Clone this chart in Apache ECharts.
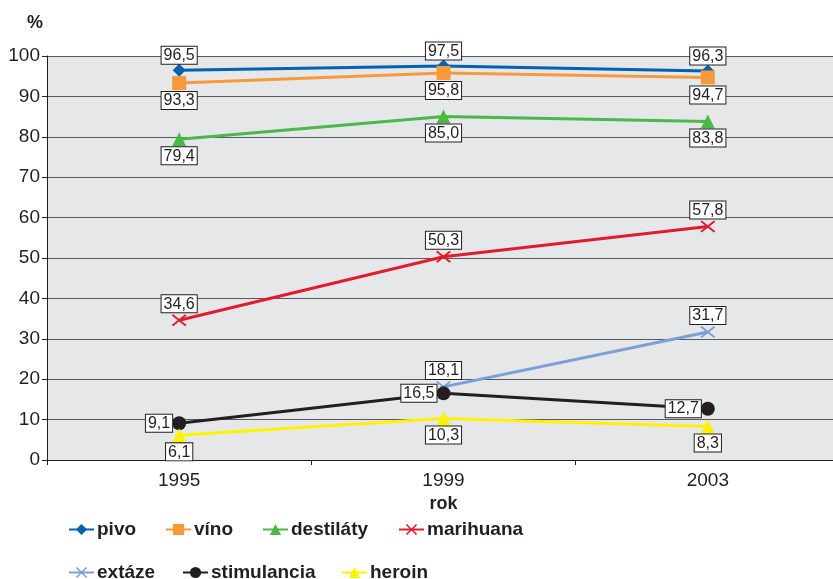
<!DOCTYPE html>
<html>
<head>
<meta charset="utf-8">
<script src="https://cdn.jsdelivr.net/npm/echarts@6/dist/echarts.min.js"></script>
<style>
  html, body { margin: 0; padding: 0; background: #fff; overflow: hidden; }
  /* the plot runs past the right edge of the window */
  #chart { width: 840px; height: 579px; }
</style>
</head>
<body>
<div id="chart"></div>
<script>
// Survey years and prevalence (%) per substance
const years = ['1995', '1999', '2003'];
const pivo = [96.5, 97.5, 96.3];
const vino = [93.3, 95.8, 94.7];
const destilaty = [79.4, 85.0, 83.8];
const marihuana = [34.6, 50.3, 57.8];
const extaze = [null, 18.1, 31.7];
const stimulancia = [9.1, 16.5, 12.7];
const heroin = [6.1, 10.3, 8.3];
const yTicks = [0, 10, 20, 30, 40, 50, 60, 70, 80, 90, 100];

const ink = '#231f20';
const font = 'Liberation Sans, Arial, sans-serif';
const crossPath = 'path://M0,1 L1,0 L5,4 L9,0 L10,1 L6,5 L10,9 L9,10 L5,6 L1,10 L0,9 L4,5 Z';

function fmt(p) {
  const v = Array.isArray(p.value) ? p.value[1] : p.value;
  return v == null ? '' : v.toFixed(1).replace('.', ',');
}

function makeSeries(name, data, color, symbol, symbolSize, labelPos, labelDist) {
  return {
    name: name,
    type: 'line',
    data: data,
    color: color,
    symbol: symbol,
    symbolSize: symbolSize,
    showAllSymbol: true,
    connectNulls: false,
    lineStyle: { width: 3, color: color },
    itemStyle: { color: color },
    emphasis: { disabled: true },
    label: {
      show: true,
      position: labelPos,
      distance: labelDist,
      formatter: fmt,
      fontFamily: font,
      fontSize: 16,
      color: ink,
      backgroundColor: '#ffffff',
      borderColor: ink,
      borderWidth: 1,
      padding: [1, 2, 0, 2],
      lineHeight: 16
    },
    z: 2
  };
}

const series = [
  makeSeries('pivo', pivo, '#0062b1', 'diamond', 13, 'top', 0),
  makeSeries('víno', vino, '#f7993b', 'rect', 14, 'bottom', 2),
  makeSeries('destiláty', destilaty, '#4cb848', 'triangle', 14, 'bottom', 1),
  makeSeries('marihuana', marihuana, '#e31b2e', crossPath, [15, 12], 'top', 2),
  makeSeries('extáze', extaze, '#7b9fd6', crossPath, [15, 12], 'top', 2),
  makeSeries('stimulancia', stimulancia, ink, 'circle', 14, 'left', 0),
  makeSeries('heroin', heroin, '#fff200', 'triangle', 14, 'bottom', 1)
];

// One legend block per entry, laid out in two rows
const legendSpots = [
  ['pivo', 68, 520], ['víno', 165, 520], ['destiláty', 262, 520], ['marihuana', 398, 520],
  ['extáze', 68, 563], ['stimulancia', 182, 563], ['heroin', 341, 563]
];
const legends = legendSpots.map(function (s) {
  return {
    data: [s[0]],
    left: s[1],
    top: s[2],
    itemWidth: 25,
    itemHeight: 14,
    itemGap: 4,
    padding: 0,
    selectedMode: false,
    textStyle: {
      fontFamily: font,
      fontSize: 19,
      fontWeight: 'bold',
      color: ink,
      padding: [0, 0, 0, -2]
    }
  };
});

const chart = echarts.init(document.getElementById('chart'), null, { renderer: 'canvas' });
chart.setOption({
  animation: false,
  backgroundColor: '#ffffff',
  grid: {
    left: 47, right: 0, top: 56, bottom: 119,
    show: true, backgroundColor: '#e6e7e8', borderWidth: 0,
    containLabel: false
  },
  title: {
    text: '%',
    left: 22, top: 9,
    textStyle: { fontFamily: font, fontSize: 18, fontWeight: 'bold', color: ink }
  },
  legend: legends,
  xAxis: {
    type: 'category',
    data: years,
    boundaryGap: true,
    name: 'rok',
    nameLocation: 'middle',
    nameGap: 33,
    nameTextStyle: { fontFamily: font, fontSize: 18, fontWeight: 'bold', color: ink },
    axisLine: { show: true, lineStyle: { color: ink, width: 1 } },
    axisTick: { show: true, length: 5, lineStyle: { color: ink } },
    axisLabel: { fontFamily: font, fontSize: 19, color: ink, margin: 11 },
    splitLine: { show: false }
  },
  yAxis: {
    type: 'value',
    min: yTicks[0],
    max: yTicks[yTicks.length - 1],
    interval: yTicks[1] - yTicks[0],
    axisLine: { show: true, lineStyle: { color: ink, width: 1 } },
    axisTick: { show: true, length: 5, lineStyle: { color: ink } },
    axisLabel: { fontFamily: font, fontSize: 19, color: ink, margin: 7 },
    splitLine: { show: true, lineStyle: { color: '#58595b', width: 1.2 } }
  },
  series: series
});
</script>
</body>
</html>
